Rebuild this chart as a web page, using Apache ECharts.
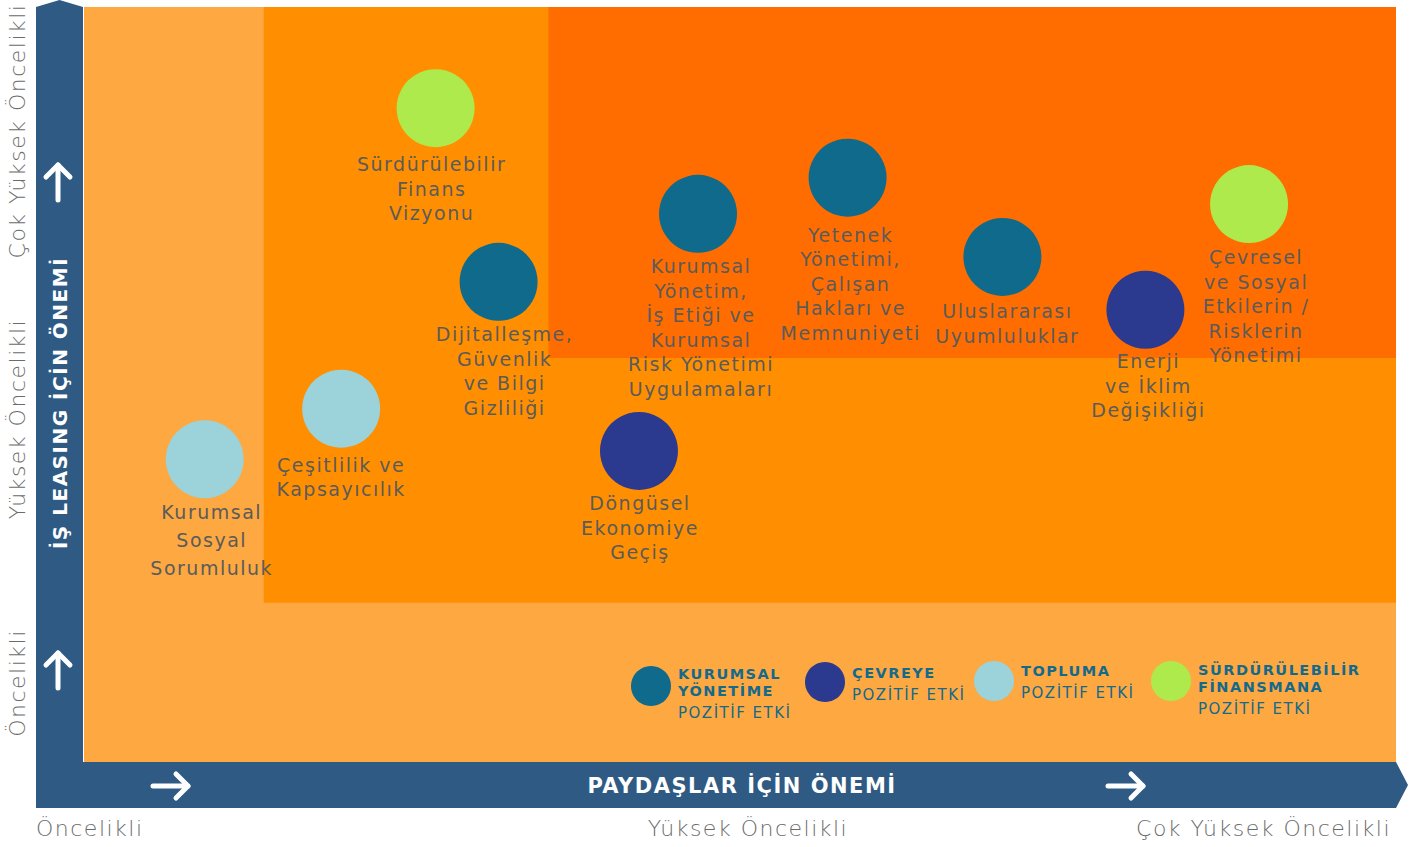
<!DOCTYPE html>
<html lang="tr">
<head>
<meta charset="utf-8">
<title>Önceliklendirme Matrisi</title>
<script src="https://cdn.jsdelivr.net/npm/echarts@6.0.0/dist/echarts.min.js"></script>
<style>
html, body { margin: 0; padding: 0; background: #fff; }
#chart { width: 1427px; height: 847px; }
#chart text { letter-spacing: 1.5px; }
</style>
</head>
<body>
<div id="chart"></div>
<script>
// eksen seviyeleri
const priorityLevels = ['Öncelikli', 'Yüksek Öncelikli', 'Çok Yüksek Öncelikli']
const xAxisTitle = 'PAYDAŞLAR İÇİN ÖNEMİ'
const yAxisTitle = 'İŞ LEASING İÇİN ÖNEMİ'

// kategoriler (lejant)
const categoryTitles = ['KURUMSAL\nYÖNETİME', 'ÇEVREYE', 'TOPLUMA', 'SÜRDÜRÜLEBİLİR\nFİNANSMANA']
const categorySub = 'POZİTİF ETKİ'

// konular
const topicNames = [
  'Sürdürülebilir\nFinans\nVizyonu',
  'Dijitalleşme,\nGüvenlik\nve Bilgi\nGizliliği',
  'Kurumsal\nSosyal\nSorumluluk',
  'Çeşitlilik ve\nKapsayıcılık',
  'Döngüsel\nEkonomiye\nGeçiş',
  'Kurumsal\nYönetim,\nİş Etiği ve\nKurumsal\nRisk Yönetimi\nUygulamaları',
  'Yetenek\nYönetimi,\nÇalışan\nHakları ve\nMemnuniyeti',
  'Uluslararası\nUyumluluklar',
  'Enerji\nve İklim\nDeğişikliği',
  'Çevresel\nve Sosyal\nEtkilerin /\nRisklerin\nYönetimi'
]
const stakeholderScore = [26.8, 31.6, 9.2, 19.6, 42.3, 46.8, 58.2, 70.0, 80.9, 88.8]
const businessScore = [86.6, 63.6, 40.1, 46.8, 41.2, 72.6, 77.4, 66.9, 59.9, 73.9]
const topicCategory = [3, 0, 2, 2, 1, 0, 0, 0, 1, 3]

// bölgeler: sol-alt köşe (0-100 ölçeği), sağ-üst köşe hep 100
const zoneMinX = [0, 13.7, 35.4]
const zoneMinY = [0, 21.1, 53.5]

const categoryColors = ['#0f6a8b', '#2b3a8f', '#9cd2d9', '#aeea4b']
const zoneColors = ['#fda841', '#ff8f00', '#ff6d00']
const barColor = '#2e5a84'
const labelColor = '#5b5b5b'
const legendColor = '#15698b'
const FONT = '"DejaVu Sans", sans-serif'

// etiket kaydırmaları (px), yalnızca görünüm için
const labelNudge = [[-4, 3], [6, -1], [7, -2], [0, 3], [1, -1], [3, -1], [3, 4], [5, 1], [3, -2], [7, 0]]

const chart = echarts.init(document.getElementById('chart'), null, { renderer: 'svg' })

const zoneSeries = {
  type: 'scatter',
  name: 'zones',
  data: [],
  z: 1,
  silent: true,
  markArea: {
    silent: true,
    label: { show: false },
    data: zoneMinX.map((x, i) => [
      { xAxis: x, yAxis: zoneMinY[i], itemStyle: { color: zoneColors[i], opacity: 1, borderWidth: 0 } },
      { xAxis: 100, yAxis: 100 }
    ])
  }
}

const topicSeries = categoryTitles.map((title, c) => ({
  type: 'scatter',
  name: title,
  z: 3,
  symbolSize: 78,
  itemStyle: { color: categoryColors[c], opacity: 1 },
  emphasis: { disabled: true },
  label: {
    show: true,
    position: 'bottom',
    distance: 2,
    formatter: '{b}',
    color: labelColor,
    fontFamily: FONT,
    fontSize: 19,
    lineHeight: 24.5,
    align: 'center'
  },
  data: topicNames
    .map((name, i) => ({
      name,
      value: [stakeholderScore[i], businessScore[i]],
      cat: topicCategory[i],
      label: Object.assign({ offset: labelNudge[i] }, i === 2 ? { lineHeight: 28 } : {})
    }))
    .filter(d => d.cat === c)
}))

// eksen çubukları ve oklar
const arrowStyle = { stroke: '#fff', lineWidth: 5, lineCap: 'round', lineJoin: 'round', fill: null }
const arrows = [
  [[58, 200], [58, 165], [46, 177], [58, 165], [70, 177]],
  [[58, 688], [58, 653], [46, 665], [58, 653], [70, 665]],
  [[153, 786], [188, 786], [176, 774], [188, 786], [176, 798]],
  [[1108, 786], [1143, 786], [1131, 774], [1143, 786], [1131, 798]]
].map(pts => ({
  type: 'group',
  children: [
    { type: 'polyline', shape: { points: pts.slice(0, 2) }, style: arrowStyle, z: 10 },
    { type: 'polyline', shape: { points: pts.slice(2) }, style: arrowStyle, z: 10 }
  ]
}))

const legendPos = [[651, 686, 665], [825, 682, 664], [994, 681, 662], [1171, 681, 661]]
const legendItems = categoryTitles.map((title, c) => ({
  type: 'group',
  children: [
    {
      type: 'circle',
      shape: { cx: legendPos[c][0], cy: legendPos[c][1], r: 20 },
      style: { fill: categoryColors[c] },
      z: 10
    },
    {
      type: 'text',
      x: legendPos[c][0] + 27,
      y: legendPos[c][2],
      z: 10,
      style: {
        text: title.split('\n').map(t => '{t|' + t + '}').join('\n') + '\n{s|' + categorySub + '}',
        textVerticalAlign: 'top',
        rich: {
          t: { fontFamily: FONT, fontWeight: 'bold', fontSize: 14.5, lineHeight: 17.5, fill: legendColor, color: legendColor },
          s: { fontFamily: FONT, fontSize: 15, lineHeight: 26, fill: legendColor, color: legendColor }
        }
      }
    }
  ]
}))

const levelText = (text, x, y, align, rot) => ({
  type: 'text',
  x, y,
  rotation: rot ? Math.PI / 2 : 0,
  z: 10,
  style: {
    text,
    font: '200 22px ' + FONT,
    fill: '#6b6b6b',
    textAlign: align,
    textVerticalAlign: 'middle'
  }
})

const option = {
  animation: false,
  grid: { left: 84, right: 31, top: 7, bottom: 85, outerBoundsMode: 'none' },
  xAxis: { type: 'value', min: 0, max: 100, show: false },
  yAxis: { type: 'value', min: 0, max: 100, show: false },
  series: [zoneSeries, ...topicSeries],
  graphic: [
    {
      type: 'polygon',
      shape: {
        points: [[36, 7], [59.5, 0], [83, 7], [83, 762], [1396, 762], [1408, 785], [1396, 808], [36, 808]]
      },
      style: { fill: barColor },
      z: 5
    },
    ...arrows,
    {
      type: 'text',
      x: 60, y: 403,
      rotation: Math.PI / 2,
      z: 10,
      style: { text: yAxisTitle, font: 'bold 20px ' + FONT, fill: '#fff', textAlign: 'center', textVerticalAlign: 'middle' }
    },
    {
      type: 'text',
      x: 742, y: 786,
      z: 10,
      style: { text: xAxisTitle, font: 'bold 21px ' + FONT, fill: '#fff', textAlign: 'center', textVerticalAlign: 'middle' }
    },
    levelText(priorityLevels[0], 36, 828, 'left', false),
    levelText(priorityLevels[1], 748, 828, 'center', false),
    levelText(priorityLevels[2], 1391, 828, 'right', false),
    levelText(priorityLevels[0], 17, 683, 'center', true),
    levelText(priorityLevels[1], 17, 419, 'center', true),
    levelText(priorityLevels[2], 17, 131, 'center', true),
    ...legendItems
  ]
}

chart.setOption(option)
window.addEventListener('resize', () => chart.resize())
</script>
</body>
</html>
